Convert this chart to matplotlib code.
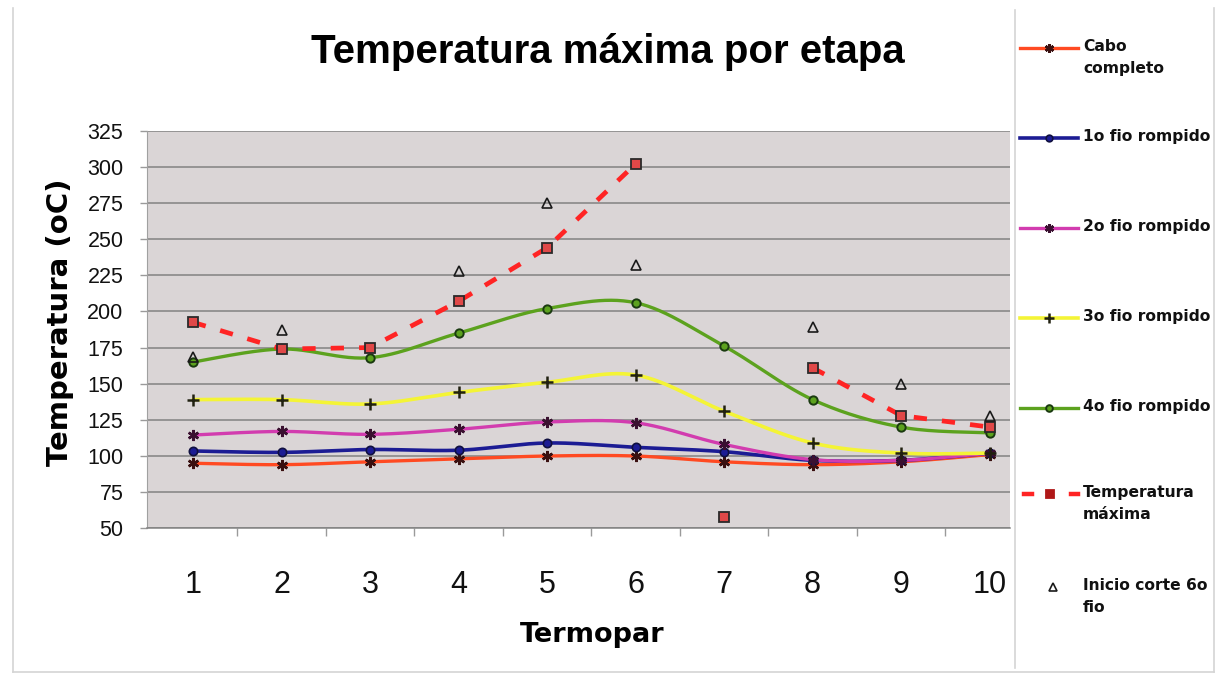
import numpy as np
import matplotlib
matplotlib.use("Agg")
import matplotlib.pyplot as plt
from matplotlib.lines import Line2D

# ---- data -------------------------------------------------------------
termopares = [1, 2, 3, 4, 5, 6, 7, 8, 9, 10]
x_labels = ["1", "2", "3", "4", "5", "6", "7", "8", "9", "10"]
y_ticks = [50, 75, 100, 125, 150, 175, 200, 225, 250, 275, 300, 325]

cabo_completo = [95, 94, 96, 98, 100, 100, 96, 94, 96, 101]
fio1_rompido = [103.5, 102.5, 104.5, 104, 109, 106, 103, 97, 97, 102]
fio2_rompido = [114.5, 117, 115, 118.5, 123.5, 123, 108, 97.5, 97, 102]
fio3_rompido = [139, 139, 136, 144, 151, 156, 131, 109, 102, 102]
fio4_rompido = [165, 174, 168, 185, 202, 206, 176, 139, 120, 116]
temp_maxima = [192.5, 174, 175, 207, 244, 302, 57.5, 161, 128, 120]
inicio_corte = [168.5, 187, np.nan, 228, 275, 232, np.nan, 189.5, 150, 128]
# termopar whose maximum is plotted as an isolated point (no connecting line)
temp_maxima_isolated = [7]

labels = ["Cabo\ncompleto", "1o fio rompido", "2o fio rompido",
          "3o fio rompido", "4o fio rompido", "Temperatura\nmáxima",
          "Inicio corte 6o\nfio"]

# ---- figure ------------------------------------------------------------
W, H = 1222, 677
fig = plt.figure(figsize=(W / 100, H / 100), dpi=100)
fig.patch.set_facecolor("white")

ax = fig.add_axes([147 / W, 1 - 528.3 / H, (1010 - 147) / W, (528.3 - 130.7) / H])
ax.set_facecolor("#dad5d6")


def smooth(xs, ys, n=30):
    """Smoothed curve through the points (Catmull-Rom style Bezier)."""
    xs = np.asarray(xs, float)
    ys = np.asarray(ys, float)
    px = np.concatenate([[xs[0]], xs, [xs[-1]]])
    py = np.concatenate([[ys[0]], ys, [ys[-1]]])
    outx, outy = [], []
    t = np.linspace(0, 1, n)
    for i in range(1, len(px) - 2):
        p0 = np.array([px[i], py[i]])
        p3 = np.array([px[i + 1], py[i + 1]])
        p1 = p0 + (np.array([px[i + 1], py[i + 1]]) - np.array([px[i - 1], py[i - 1]])) / 6
        p2 = p3 - (np.array([px[i + 2], py[i + 2]]) - np.array([px[i], py[i]])) / 6
        b = ((1 - t) ** 3)[:, None] * p0 + (3 * (1 - t) ** 2 * t)[:, None] * p1 \
            + (3 * (1 - t) * t ** 2)[:, None] * p2 + (t ** 3)[:, None] * p3
        outx.extend(b[:, 0])
        outy.extend(b[:, 1])
    return np.array(outx), np.array(outy)


asterisk = (6, 2, 0)
styles = [
    dict(color="#ff4a22", lw=2.4, marker=asterisk, ms=8, mfc="#3a1010", mec="#3a1010", mew=1.8),
    dict(color="#1c1c94", lw=2.6, marker="o", ms=6, mfc="#1c1c94", mec="#101040", mew=1.2),
    dict(color="#d23caf", lw=2.4, marker=asterisk, ms=8, mfc="#3a1030", mec="#3a1030", mew=1.8),
    dict(color="#f4f436", lw=2.6, marker="+", ms=9, mfc="#202010", mec="#202010", mew=1.8),
    dict(color="#5ca21e", lw=2.4, marker="o", ms=6, mfc="#5ca21e", mec="#1a3a10", mew=1.4),
]
series = [cabo_completo, fio1_rompido, fio2_rompido, fio3_rompido, fio4_rompido]

for ys, st in zip(series, styles):
    sx, sy = smooth(termopares, ys)
    ax.plot(sx, sy, color=st["color"], lw=st["lw"], solid_capstyle="round", zorder=3)
    ax.plot(termopares, ys, ls="none", marker=st["marker"], ms=st["ms"],
            mfc=st["mfc"], mec=st["mec"], mew=st["mew"], zorder=4)

# maximum temperature: dashed straight segments, isolated point left unconnected
tmax_line = np.array(temp_maxima, float)
for t in temp_maxima_isolated:
    tmax_line[termopares.index(t)] = np.nan
red = "#ff2424"
ax.plot(termopares, tmax_line, color=red, lw=3.4, ls=(0, (2.8, 3.2)), zorder=5)
sq_style = dict(ls="none", marker="s", ms=6.5, mfc="#e04848", mec="#2a2a2a", mew=1.3)
ax.plot(termopares, temp_maxima, zorder=6, **sq_style)

tri_style = dict(ls="none", marker="^", ms=7, mfc="none", mec="#1a1a1a", mew=1.2)
ax.plot(termopares, inicio_corte, zorder=6, **tri_style)

# ---- axes --------------------------------------------------------------
ax.set_ylim(50, 325)
ax.set_xlim(0.48, 10.23)
ax.set_yticks(y_ticks)
ax.set_yticklabels([str(v) for v in y_ticks], fontsize=15.5,
                   family="Liberation Sans", color="#111111")
ax.set_xticks(termopares)
ax.set_xticklabels(x_labels, fontsize=22, family="Liberation Sans", color="#111111")
ax.set_xticks(np.arange(1.5, 10.5, 1.0), minor=True)
ax.tick_params(axis="x", which="major", length=0, pad=30)
ax.tick_params(axis="x", which="minor", length=6, color="#9a9a9a", width=1)
ax.tick_params(axis="y", length=5, color="#9a9a9a", width=1, pad=12)
ax.grid(axis="y", color="#828282", lw=1.1)
ax.set_axisbelow(True)
for s in ["top", "right"]:
    ax.spines[s].set_visible(False)
ax.spines["left"].set_color("#a0a0a0")
ax.spines["bottom"].set_color("#828282")
ax.spines["bottom"].set_linewidth(1.1)

fig.text(608 / W, 1 - 63 / H, "Temperatura máxima por etapa", ha="center",
         va="baseline", fontsize=29, fontweight="bold", family="Liberation Sans")
fig.text(592 / W, 1 - 635 / H, "Termopar", ha="center", va="center",
         fontsize=19.5, fontweight="bold", family="DejaVu Sans")
fig.text(60 / W, 1 - 322 / H, "Temperatura (oC)", ha="center", va="center",
         rotation=90, fontsize=21, fontweight="bold", family="DejaVu Sans")

# ---- frame lines ---------------------------------------------------------
frame = "#d4d4d4"
fig.add_artist(Line2D([13 / W, 13 / W], [1 - 8 / H, 1 - 672 / H], color=frame, lw=1.2))
fig.add_artist(Line2D([13 / W, 1214 / W], [1 - 672 / H, 1 - 672 / H], color=frame, lw=1.2))
fig.add_artist(Line2D([1214 / W, 1214 / W], [1 - 8 / H, 1 - 672 / H], color=frame, lw=1.2))
fig.add_artist(Line2D([1015 / W, 1015 / W], [1 - 10 / H, 1 - 668 / H], color=frame, lw=1.2))

# ---- legend --------------------------------------------------------------
def fx(px):
    return px / W


def fy(py):
    return 1 - py / H


leg_y = [48, 138, 228, 318, 408, 494, 587]
for i, st in enumerate(styles):
    y = fy(leg_y[i])
    fig.add_artist(Line2D([fx(1020), fx(1078)], [y, y], color=st["color"], lw=st["lw"]))
    fig.add_artist(Line2D([fx(1049)], [y], ls="none", marker=st["marker"], ms=st["ms"] * 0.8,
                          mfc=st["mfc"], mec=st["mec"], mew=st["mew"]))
y = fy(leg_y[5])
for x0, x1 in [(1024, 1032), (1071, 1078)]:
    fig.add_artist(Line2D([fx(x0), fx(x1)], [y, y], color=red, lw=3.2))
fig.add_artist(Line2D([fx(1050)], [y], **{**sq_style, "ms": 6, "mfc": "#b01818", "mec": "#b01818"}))
fig.add_artist(Line2D([fx(1053)], [fy(leg_y[6])], **{**tri_style, "ms": 5.5}))

for i, lab in enumerate(labels):
    fig.text(fx(1083), fy(leg_y[i] - 9), lab, ha="left", va="top", fontsize=11.2,
             fontweight="bold", family="DejaVu Sans", color="#111111", linespacing=1.55)

fig.savefig("out.png", dpi=100, facecolor="white")
